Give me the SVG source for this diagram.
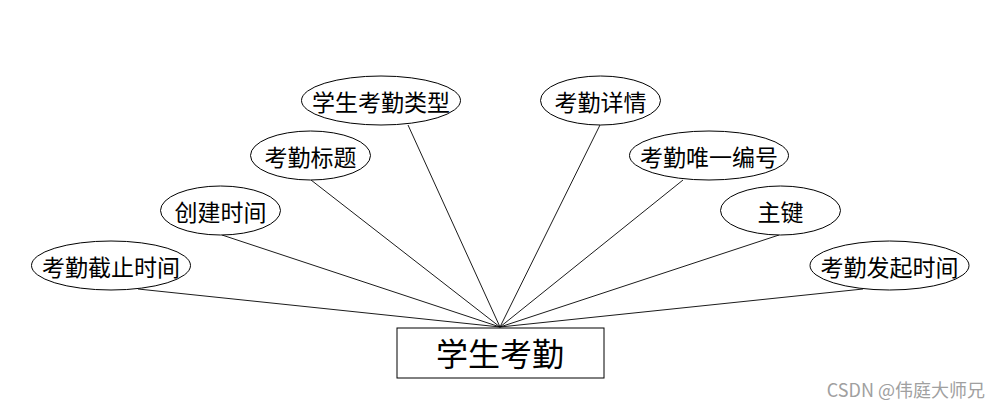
<svg xmlns="http://www.w3.org/2000/svg" width="1000" height="408" viewBox="0 0 1000 408">
<style>
.e{fill:#fff;stroke:#000;stroke-width:1}
.t{font-family:"Noto Sans CJK SC","Noto Sans",sans-serif;font-size:23px;fill:#000;text-anchor:middle;dominant-baseline:central}
.c line{stroke:#000;stroke-width:0.9}
</style>
<rect width="1000" height="408" fill="#fff"/>
<g id="connectors" class="c">
<line x1="408" y1="125" x2="500" y2="327"/>
<line x1="311" y1="180" x2="500" y2="327"/>
<line x1="222" y1="235" x2="500" y2="327"/>
<line x1="138" y1="289" x2="500" y2="327"/>
<line x1="600" y1="125" x2="500" y2="327"/>
<line x1="683" y1="180" x2="500" y2="327"/>
<line x1="779" y1="235" x2="500" y2="327"/>
<line x1="863" y1="289" x2="500" y2="327"/>
</g>
<g id="entity">
<rect x="397" y="328" width="207" height="50" fill="#fff" stroke="#000" stroke-width="1"/>
<text x="500" y="352" class="t" style="font-size:32px">学生考勤</text>
</g>
<g id="a1"><ellipse class="e" cx="381" cy="100.5" rx="79.5" ry="24.5"/><text class="t" x="381" y="101">学生考勤类型</text></g>
<g id="a2"><ellipse class="e" cx="310.5" cy="155.5" rx="60" ry="24.5"/><text class="t" x="310.5" y="156">考勤标题</text></g>
<g id="a3"><ellipse class="e" cx="220.5" cy="210.5" rx="60" ry="24.5"/><text class="t" x="220.5" y="211">创建时间</text></g>
<g id="a4"><ellipse class="e" cx="111" cy="265.5" rx="79.5" ry="24.5"/><text class="t" x="111" y="266">考勤截止时间</text></g>
<g id="a5"><ellipse class="e" cx="600.5" cy="100.5" rx="60" ry="24.5"/><text class="t" x="600.5" y="101">考勤详情</text></g>
<g id="a6"><ellipse class="e" cx="709" cy="155.5" rx="79.5" ry="24.5"/><text class="t" x="709" y="156">考勤唯一编号</text></g>
<g id="a7"><ellipse class="e" cx="780.5" cy="210.5" rx="60" ry="24.5"/><text class="t" x="780.5" y="211">主键</text></g>
<g id="a8"><ellipse class="e" cx="889.5" cy="265.5" rx="79.5" ry="24.5"/><text class="t" x="889.5" y="266">考勤发起时间</text></g>
<text x="985" y="389" style="font-family:'Noto Sans CJK SC','Noto Sans',sans-serif;font-size:18px;fill:#a0a0a0;text-anchor:end;dominant-baseline:central">CSDN @伟庭大师兄</text>
</svg>
